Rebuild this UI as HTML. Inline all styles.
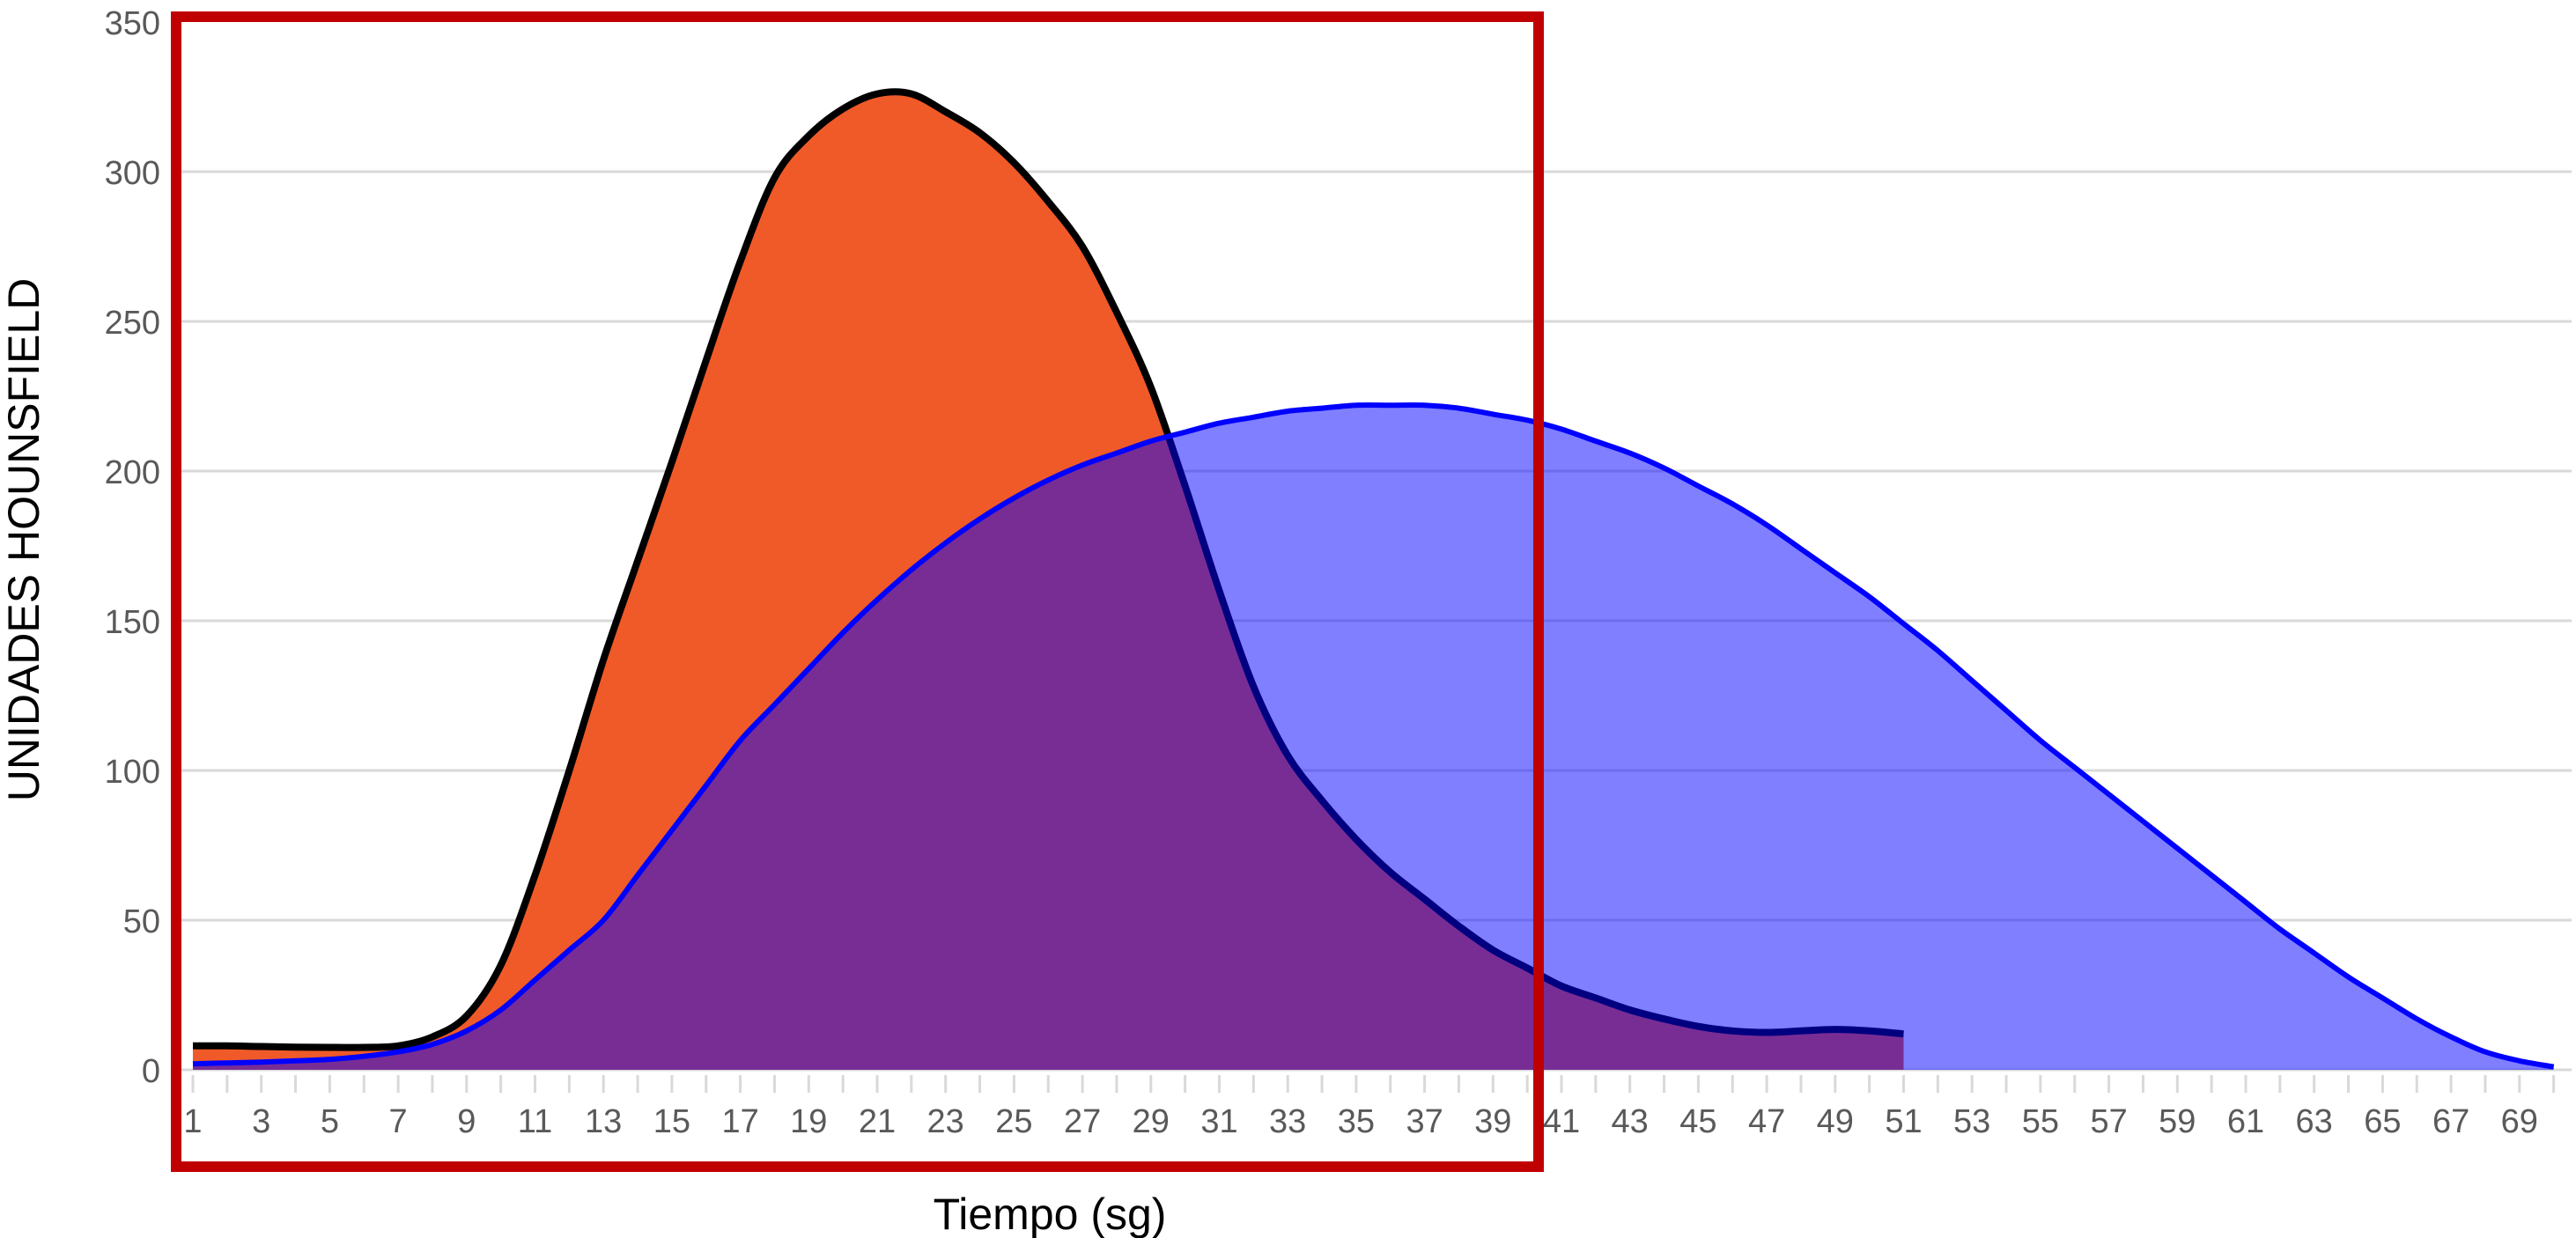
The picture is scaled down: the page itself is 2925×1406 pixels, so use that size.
<!DOCTYPE html>
<html><head><meta charset="utf-8">
<style>
html,body{margin:0;padding:0;background:#fff;}
svg{display:block;font-family:"Liberation Sans",sans-serif;}
</style></head>
<body>
<svg id="chart" width="2925" height="1406" viewBox="0 0 2925 1406">
<g id="grid"></g>
<g id="yticks"></g>
<g id="xticks"></g>
<g id="series"></g>
<text x="0" y="0" transform="translate(44,613) rotate(-90)" text-anchor="middle" font-size="50" fill="#000">UNIDADES HOUNSFIELD</text>
<text x="1192" y="1396" text-anchor="middle" font-size="50" fill="#000">Tiempo (sg)</text>
<rect x="200" y="19" width="1547" height="1306" fill="none" stroke="#c00000" stroke-width="12"/>
</svg>
<script>
const yTicks = [0,50,100,150,200,250,300,350];
const arterialValues = [8,8,7.8,7.6,7.5,7.5,8,11,18,35,65,100,137,170,203,237,270,298,312,321,326,326,320,313,303,290,275,253,228,195,160,128,105,90,77,66,57,48,40,34,28,24,20,17,14.5,13,12.5,13,13.5,13,12];
const venousValues = [2,2.3,2.6,3,3.5,4.5,6,8.5,13,20,30,40,50,65,80,95,110,122,134,146,157,167,176,184,191,197,202,206,210,213,216,218,220,221,222,222,222,221,219,217,214,210,206,201,195,189,182,174,166,158,149,140,130,120,110,101,92,83,74,65,56,47,39,31,24,17,11,6,3,1];
const NCAT = 70;
const zeroY = 1215, perUnit = 170/50, x0 = 219, dx = 38.85;
function X(i){return x0 + i*dx;}
function Y(v){return zeroY - v*perUnit;}
const NS='http://www.w3.org/2000/svg';
function mk(tag, attrs, parent){const e=document.createElementNS(NS,tag);for(const k in attrs)e.setAttribute(k,attrs[k]);parent.appendChild(e);return e;}
const grid=document.getElementById('grid'), yt=document.getElementById('yticks'), xt=document.getElementById('xticks'), ser=document.getElementById('series');
yTicks.forEach(v=>{
  if(v>0 && v<350){
    const l=mk('line',{x1:202,x2:2920,y1:Y(v),y2:Y(v),stroke:'#d9d9d9','stroke-width':3},grid);
    
    
  }
  const t=mk('text',{x:182,y:Y(v)+14,'text-anchor':'end','font-size':38,fill:'#595959'},yt);
  
  
  t.textContent=v;
});
const ax=mk('line',{x1:202,x2:2920,y1:zeroY,y2:zeroY,stroke:'#d9d9d9','stroke-width':3},grid);


for(let i=0;i<NCAT;i++){
  const tk=mk('line',{x1:X(i),x2:X(i),y1:zeroY+6,y2:zeroY+26,stroke:'#d9d9d9','stroke-width':3},xt);
  
  
  if(i%2===0){
    const t=mk('text',{x:X(i),y:1286,'text-anchor':'middle','font-size':38,fill:'#595959'},xt);
    
    
    t.textContent=i+1;
  }
}
function curve(vals){
  const p=vals.map((v,i)=>[X(i),Y(v)]);
  let d='M'+p[0][0]+','+p[0][1];
  for(let i=0;i<p.length-1;i++){
    const a=p[Math.max(i-1,0)],b=p[i],c=p[i+1],e=p[Math.min(i+2,p.length-1)];
    const c1=[b[0]+(c[0]-a[0])/6,b[1]+(c[1]-a[1])/6], c2=[c[0]-(e[0]-b[0])/6,c[1]-(e[1]-b[1])/6];
    d+=' C'+c1[0].toFixed(1)+','+c1[1].toFixed(1)+' '+c2[0].toFixed(1)+','+c2[1].toFixed(1)+' '+c[0].toFixed(1)+','+c[1].toFixed(1);
  }
  return d;
}
function area(vals){return curve(vals)+' L'+X(vals.length-1)+','+zeroY+' L'+X(0)+','+zeroY+' Z';}
const oa=mk('path',{d:area(arterialValues),fill:'#f05a28'},ser);


const ol=mk('path',{d:curve(arterialValues),fill:'none',stroke:'#000','stroke-width':8,'stroke-linejoin':'round'},ser);


const ba=mk('path',{d:area(venousValues),fill:'rgba(0,0,255,0.5)'},ser);


const bl=mk('path',{d:curve(venousValues),fill:'none',stroke:'#0000ff','stroke-width':6,'stroke-linejoin':'round'},ser);


</script>
</body></html>
